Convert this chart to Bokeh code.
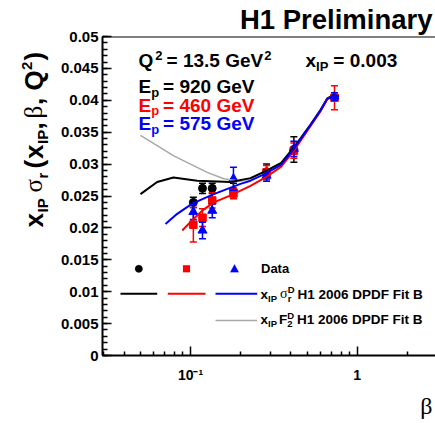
import math
from bokeh.plotting import figure
from bokeh.layouts import column, row
from bokeh.models import Range1d, FixedTicker, Label, Span, BoxAnnotation, PolyAnnotation, Title
from bokeh.embed import file_html
from bokeh.resources import INLINE

# ---------------- data ----------------
beta_920 = [0.104, 0.118, 0.135, 0.181, 0.286, 0.417]
sig_920 = [0.0240, 0.0262, 0.0262, 0.0258, 0.0288, 0.0323]
err_920 = [0.0008, 0.0008, 0.0008, 0.0012, 0.0012, 0.0020]

beta_460 = [0.104, 0.118, 0.135, 0.181, 0.286, 0.417, 0.731]
sig_460 = [0.0205, 0.0216, 0.0243, 0.0254, 0.0287, 0.0321, 0.0404]
err_460 = [0.0027, 0.0014, 0.0012, 0.0008, 0.0011, 0.0012, 0.0019]

beta_575 = [0.104, 0.118, 0.135, 0.181, 0.286, 0.417, 0.731]
sig_575 = [0.0225, 0.0196, 0.0227, 0.0277, 0.0282, 0.0324, 0.0406]
err_575 = [0.0012, 0.0013, 0.0011, 0.0018, 0.0009, 0.0012, 0.0006]

fit920_beta = [0.0501, 0.0631, 0.0790, 0.1097, 0.1738, 0.229, 0.282, 0.35, 0.417, 0.525, 0.603, 0.661, 0.731, 0.776]
fit920_val = [0.0253, 0.0272, 0.0279, 0.0274, 0.0272, 0.0278, 0.0289, 0.0302, 0.0326, 0.0362, 0.0385, 0.0403, 0.0409, 0.0406]

f2_beta = [0.0501, 0.0631, 0.0794, 0.1, 0.1259, 0.1585, 0.1995, 0.229, 0.282, 0.35, 0.417, 0.525, 0.603, 0.661, 0.731, 0.776]
f2_val = [0.0345, 0.0329, 0.0313, 0.0300, 0.0287, 0.0277, 0.0273, 0.0277, 0.0289, 0.0302, 0.0326, 0.0362, 0.0385, 0.0403, 0.0409, 0.0406]

fit575_beta = [0.0708, 0.0832, 0.1024, 0.138, 0.1995, 0.229, 0.282, 0.35, 0.417, 0.525, 0.603, 0.661, 0.731, 0.776]
fit575_val = [0.0206, 0.0222, 0.0238, 0.0253, 0.0269, 0.0274, 0.0285, 0.0299, 0.0324, 0.0361, 0.0384, 0.0402, 0.0408, 0.0405]

fit460_beta = [0.0892, 0.1024, 0.1175, 0.138, 0.174, 0.229, 0.282, 0.35, 0.417, 0.525, 0.603, 0.661, 0.731, 0.776]
fit460_val = [0.0196, 0.0212, 0.0227, 0.0240, 0.0251, 0.0266, 0.0279, 0.0296, 0.0321, 0.0360, 0.0383, 0.0402, 0.0408, 0.0405]

y_ticks = [0.0, 0.005, 0.01, 0.015, 0.02, 0.025, 0.03, 0.035, 0.04, 0.045, 0.05]
y_labels = ["0", "0.005", "0.01", "0.015", "0.02", "0.025", "0.03", "0.035", "0.04", "0.045", "0.05"]
x_ticks = [0.1, 1]
x_labels = ["10\u207b\u00b9", "1"]

# ---------------- style ----------------
SANS = "Liberation Sans"
SERIF = "Liberation Serif"
BLACK, RED, BLUE, GRAY = "#000000", "#ff0000", "#0000ff", "#a8a8a8"
B = "bold"
N = "normal"
MID = 0.345  # distance (in em) from the text middle line down to the baseline


def blank(w, h, **kw):
    f = figure(width=w, height=h, output_backend="svg", toolbar_location=None, title=None,
               x_range=Range1d(0, 1), y_range=Range1d(0, 1), min_border=0,
               x_axis_location=None, y_axis_location=None, **kw)
    f.xgrid.visible = False
    f.ygrid.visible = False
    f.outline_line_color = None
    f.background_fill_color = "white"
    f.border_fill_color = "white"
    return f


# page layout: y-label strip + main plot (0..390), bottom strip (390..423)
ylab_fig = blank(52, 390, min_border_top=36, min_border_bottom=35)
bot_fig = blank(435, 33)

p = figure(width=383, height=390, x_axis_type="log", output_backend="svg",
           toolbar_location=None, title=None,
           x_range=Range1d(0.02965, 2.95), y_range=Range1d(0, 0.05),
           min_border_left=50, min_border_right=0, min_border_top=36, min_border_bottom=35)
p.xgrid.visible = False
p.ygrid.visible = False
p.outline_line_color = None
p.background_fill_color = "white"
p.border_fill_color = "white"
p.add_layout(Title(text="H1 Preliminary", align="right", vertical_align="top", offset=3, standoff=0,
                   text_font=SANS, text_font_style="bold", text_font_size="27.5px",
                   text_color="black"), "above")

# page position (x of frame left, y of frame bottom) of each figure's frame
ORIG = {id(p): (102, 355), id(ylab_fig): (0, 355), id(bot_fig): (0, 423)}

xa = p.xaxis[0]
xa.ticker = FixedTicker(ticks=x_ticks,
                        minor_ticks=[0.03, 0.04, 0.05, 0.06, 0.07, 0.08, 0.09,
                                     0.2, 0.3, 0.4, 0.5, 0.6, 0.7, 0.8, 0.9, 2])
xa.major_label_overrides = dict(zip(x_ticks, x_labels))
ya = p.yaxis[0]
ya.ticker = FixedTicker(ticks=y_ticks, minor_ticks=[i / 1000 for i in range(51)])
ya.major_label_overrides = dict(zip(y_ticks, y_labels))
for ax, fs, so in ((xa, "14px", 11), (ya, "15px", 4)):
    ax.axis_line_width = 2
    ax.axis_line_color = "black"
    ax.major_tick_in = 9
    ax.major_tick_out = 0
    ax.minor_tick_in = 4
    ax.minor_tick_out = 0
    ax.major_tick_line_width = 1.5
    ax.minor_tick_line_width = 1.5
    ax.major_tick_line_color = "black"
    ax.minor_tick_line_color = "black"
    ax.major_label_text_font = SANS
    ax.major_label_text_font_style = "bold"
    ax.major_label_text_font_size = fs
    ax.major_label_text_color = "black"
    ax.major_label_standoff = so
ya.minor_tick_in = 5

p.add_layout(Span(location=0.05, dimension="width", line_color="black", line_width=2))

# ---------------- data points ----------------
def points(beta, val, err, color, marker, size):
    lo = [v - e for v, e in zip(val, err)]
    hi = [v + e for v, e in zip(val, err)]
    p.segment(x0=beta, y0=lo, x1=beta, y1=hi, line_color=color, line_width=1.5)
    p.scatter(beta, lo, marker="dash", size=7, line_color=color, line_width=1.5)
    p.scatter(beta, hi, marker="dash", size=7, line_color=color, line_width=1.5)
    p.scatter(beta, val, marker=marker, size=size, fill_color=color, line_color=color)

points(beta_920, sig_920, err_920, BLACK, "circle", 8)
points(beta_460, sig_460, err_460, RED, "square", 7.5)
points(beta_575, sig_575, err_575, BLUE, "triangle", 9)

p.line(f2_beta, f2_val, line_color=GRAY, line_width=1.5)
p.line(fit920_beta, fit920_val, line_color=BLACK, line_width=2)
p.line(fit460_beta, fit460_val, line_color=RED, line_width=2)
p.line(fit575_beta, fit575_val, line_color=BLUE, line_width=2)

# ---------------- texts ----------------
AW = {' ': .278, '(': .333, ')': .333, ',': .278, '.': .278, '=': .584, 'B': .722, 'D': .722,
      'E': .667, 'F': .611, 'G': .778, 'H': .722, 'I': .278, 'P': .667, 'Q': .778, 'V': .667,
      'a': .556, 'e': .556, 'i': .278, 'l': .278, 'm': .889, 'n': .611, 'p': .611, 'r': .389,
      't': .333, 'x': .556, 'y': .556}
GW = {'\u03c3': .55, '\u03b2': .52}


def width(text, size, font):
    if font == SERIF:
        return sum(GW.get(c, .5) for c in text) * size
    return sum(AW.get(c, .556) for c in text) * size


def put(fig, text, x, y, size, color="black", font=SANS, style=B, align="left", angle=0.0):
    """x, y: page position of the text's start (or end) on its baseline."""
    ox, oy = ORIG[id(fig)]
    if angle == 0:
        ax_, ay_ = x, y - MID * size
    else:
        ax_, ay_ = x - MID * size, y
    fig.add_layout(Label(x=ax_ - ox, y=oy - ay_, x_units="screen", y_units="screen", text=text,
                         angle=angle, text_font=font, text_font_style=style,
                         text_font_size=f"{size}px", text_color=color,
                         text_align=align, text_baseline="middle"))


def rich(fig, pieces, x0, y0, color="black"):
    pos = 0.0
    for text, size, shift, font, style, gap, adv in pieces:
        pos += gap
        put(fig, text, x0 + pos, y0 + shift, size, color=color, font=font, style=style)
        if adv:
            pos += width(text, size, font)


# x axis title
put(bot_fig, "\u03b2", 432, 414, 24, font=SERIF, style=N, align="right")
# y axis title (rotated; each piece: text, size, baseline shift, font, style, start y on page)
YB = 42
for text, size, shift, font, style, ystart in (
        ("x", 26, 0, SANS, B, 227), ("IP", 15, 5, SANS, B, 212),
        ("\u03c3", 25, 0, SERIF, N, 192), ("r", 15, 5, SANS, B, 178),
        ("(", 26, 0, SANS, B, 168), ("x", 26, 0, SANS, B, 158.5),
        ("IP", 15, 5, SANS, B, 143.5), (",", 26, 0, SANS, B, 129),
        ("\u03b2", 25, 0, SERIF, N, 118), (",", 26, 0, SANS, B, 104.5),
        ("Q", 26, 0, SANS, B, 90), ("2", 15, -10, SANS, B, 69.5),
        (")", 26, 0, SANS, B, 60)):
    put(ylab_fig, text, YB + shift, ystart, size, font=font, style=style, angle=math.pi / 2)

# annotations in the frame
rich(p, [("Q", 19, 0, SANS, B, 0, True), ("2", 13, -7, SANS, B, 2, True),
         ("= 13.5 GeV", 19, 0, SANS, B, 4, True), ("2", 13, -7, SANS, B, 1, True)], 138, 66.5)
rich(p, [("x", 19, 0, SANS, B, 0, True), ("IP", 13, 3.5, SANS, B, 0, True),
         ("= 0.003", 19, 0, SANS, B, 5, True)], 305, 66.5)
for txt, yb, col in (("= 920 GeV", 93, BLACK), ("= 460 GeV", 111.5, RED), ("= 575 GeV", 130, BLUE)):
    rich(p, [("E", 19, 0, SANS, B, 0, True), ("p", 13, 3, SANS, B, 0, True),
             (txt, 19, 0, SANS, B, 4, True)], 138, yb, color=col)

# legend
def poly(pts, color):
    ox, oy = ORIG[id(p)]
    p.add_layout(PolyAnnotation(xs=[a - ox for a, b in pts], ys=[oy - b for a, b in pts],
                                xs_units="screen", ys_units="screen",
                                fill_color=color, fill_alpha=1, line_color=color, line_width=0.5))


def circ(cx, cy, r, color):
    poly([(cx + r * math.cos(2 * math.pi * k / 24), cy + r * math.sin(2 * math.pi * k / 24))
          for k in range(24)], color)


def hline(x0, x1, y, color, w):
    ox, oy = ORIG[id(p)]
    p.add_layout(BoxAnnotation(left=x0 - ox, right=x1 - ox, bottom=oy - y - w / 2, top=oy - y + w / 2,
                               left_units="screen", right_units="screen",
                               bottom_units="screen", top_units="screen",
                               fill_color=color, fill_alpha=1, line_color=None))


circ(138.3, 268.3, 3.8, BLACK)
poly([(182.5, 264.8), (189.5, 264.8), (189.5, 271.8), (182.5, 271.8)], RED)
poly([(234, 263.8), (238.3, 271.8), (229.7, 271.8)], BLUE)
put(p, "Data", 260.5, 272.5, 13)

hline(120, 156.7, 293.3, BLACK, 2)
hline(167.3, 205, 293.3, RED, 2)
hline(215, 256.7, 293.3, BLUE, 2)
hline(215, 256.7, 320, GRAY, 1.5)

rich(p, [("x", 13.5, 0, SANS, B, 0, True), ("IP", 9.5, 2.5, SANS, B, 0, True),
         ("\u03c3", 14, 0, SERIF, N, 3, True), ("r", 9.5, 3, SANS, B, 0, False),
         ("D", 9.5, -6, SANS, B, 0, True), ("H1 2006 DPDF Fit B", 13.5, 0, SANS, B, 3, True)],
     260, 298.3)
rich(p, [("x", 13.5, 0, SANS, B, 0, True), ("IP", 9.5, 2.5, SANS, B, 0, True),
         ("F", 13.5, 0, SANS, B, 2, True), ("2", 9.5, 3, SANS, B, 0, False),
         ("D", 9.5, -6, SANS, B, 0, True), ("H1 2006 DPDF Fit B", 13.5, 0, SANS, B, 3, True)],
     260, 324)

page = column(row(ylab_fig, p, spacing=0), bot_fig, spacing=0)
open("out.html", "w").write(file_html(page, INLINE))
